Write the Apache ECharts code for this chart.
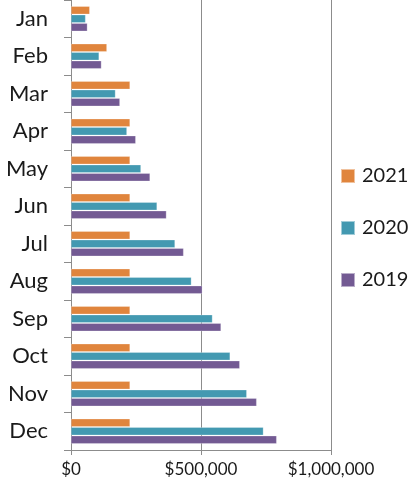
<!DOCTYPE html>
<html>
<head>
<meta charset="utf-8">
<script src="https://cdn.jsdelivr.net/npm/echarts@6/dist/echarts.min.js"></script>
<style>
  html, body { margin: 0; padding: 0; background: #fff; }
  #main { width: 410px; height: 489px; }
</style>
</head>
<body>
<div id="main"></div>
<script>
const months = ['Jan', 'Feb', 'Mar', 'Apr', 'May', 'Jun', 'Jul', 'Aug', 'Sep', 'Oct', 'Nov', 'Dec'];
const sales2021 = [72000, 138000, 227000, 227000, 227000, 227000, 227000, 227000, 227000, 227000, 227000, 227000];
const sales2020 = [56000, 108000, 171000, 215000, 269000, 331000, 400000, 463000, 544000, 612000, 676000, 740000];
const sales2019 = [63000, 117000, 188000, 249000, 304000, 367000, 433000, 505000, 577000, 649000, 714000, 791000];
const xTicks = [0, 500000, 1000000];

const FONT = 'Lato';
const GRAY = '#8c8c8c';

var chartDom = document.getElementById('main');
var myChart = echarts.init(chartDom);
var option;

function money(v) {
  return '$' + v.toString().replace(/\B(?=(\d{3})+(?!\d))/g, ',');
}

function barSeries(name, data, color) {
  return {
    name: name,
    type: 'bar',
    data: data,
    barWidth: 8,
    barGap: '6%',
    itemStyle: { color: color, borderColor: 'rgba(255,255,255,0.5)', borderWidth: 0.5 }
  };
}

option = {
  animation: false,
  textStyle: { fontFamily: FONT },
  grid: { left: 71, right: 79, top: 0, bottom: 39, containLabel: false },
  legend: {
    orient: 'vertical',
    left: 340,
    top: 166,
    padding: 0,
    itemWidth: 14,
    itemHeight: 14,
    itemGap: 32,
    icon: 'rect',
    textStyle: { fontFamily: FONT, fontSize: 20, color: '#1a1a1a', padding: [0, 0, 0, 2] },
    data: ['2021', '2020', '2019']
  },
  xAxis: {
    type: 'value',
    min: xTicks[0],
    max: xTicks[xTicks.length - 1],
    interval: xTicks[1] - xTicks[0],
    axisLine: { show: true, lineStyle: { color: GRAY, width: 1 } },
    axisTick: { show: true, length: 5, lineStyle: { color: GRAY } },
    splitLine: { show: true, lineStyle: { color: GRAY, width: 1 } },
    axisLabel: {
      formatter: money,
      fontFamily: FONT,
      fontSize: 17,
      color: '#1a1a1a',
      margin: 11
    }
  },
  yAxis: {
    type: 'category',
    inverse: true,
    data: months,
    axisLine: { show: true, lineStyle: { color: GRAY, width: 1 } },
    axisTick: { show: true, length: 7, lineStyle: { color: GRAY } },
    axisLabel: { fontFamily: FONT, fontSize: 22, color: '#1a1a1a', margin: 23 }
  },
  series: [
    barSeries('2021', sales2021, '#e0853d'),
    barSeries('2020', sales2020, '#4399b1'),
    barSeries('2019', sales2019, '#735a93')
  ]
};

option && myChart.setOption(option);
</script>
</body>
</html>
